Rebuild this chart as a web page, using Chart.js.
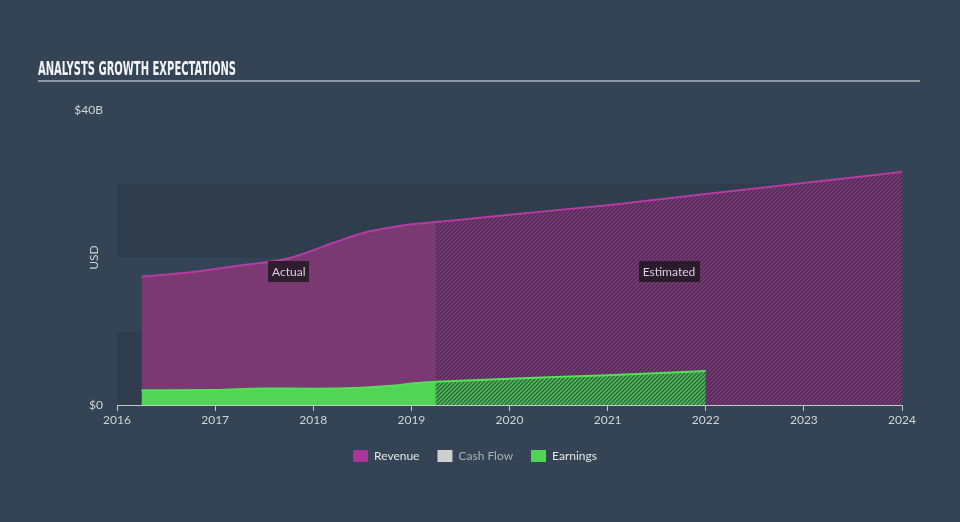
<!DOCTYPE html>
<html>
<head>
<meta charset="utf-8">
<script src="https://cdn.jsdelivr.net/npm/chart.js@4.4.0/dist/chart.umd.min.js"></script>
<style>
  html, body { margin: 0; padding: 0; background: #344454; }
  #wrap { width: 960px; height: 522px; position: relative; }
</style>
</head>
<body>
<div id="wrap"><canvas id="growthChart" width="960" height="522"></canvas></div>
<script>
// Chart data (values in $ billions)
var titleText = "ANALYSTS GROWTH EXPECTATIONS";
var yearTicks = [2016, 2017, 2018, 2019, 2020, 2021, 2022, 2023, 2024];
var yTickValues = [0, 40];
var yTickLabels = ["$0", "$40B"];
var bandRanges = [[0, 10], [20, 30]];

var revenueActualYears = [2016.25, 2016.75, 2017.25, 2017.75, 2018.25, 2018.5, 2018.75, 2019, 2019.25];
var revenueActual = [17.4, 18.0, 18.9, 19.9, 22.2, 23.3, 24.0, 24.5, 24.8];
var revenueEstYears = [2019.25, 2020, 2021, 2022, 2023, 2024];
var revenueEst = [24.8, 25.8, 27.1, 28.6, 30.1, 31.6];

var earningsActualYears = [2016.25, 2017, 2017.5, 2018, 2018.5, 2018.8, 2019, 2019.25];
var earningsActual = [2.0, 2.05, 2.25, 2.2, 2.35, 2.6, 2.9, 3.15];
var earningsEstYears = [2019.25, 2020, 2021, 2022];
var earningsEst = [3.15, 3.55, 4.05, 4.6];

var periodLabels = [
    { text: "Actual", x: 2017.75, y: 18.1 },
    { text: "Estimated", x: 2021.625, y: 18.1 }
];

// build {x, y} points from the year / value arrays
function toPoints(years, values) {
    return years.map(function (yr, i) { return { x: yr, y: values[i] }; });
}

// diagonal hatch used for the estimated part
function makeHatch(base, stripe) {
    var c = document.createElement("canvas");
    c.width = 4; c.height = 4;
    var g = c.getContext("2d");
    g.fillStyle = base;
    g.fillRect(0, 0, 4, 4);
    g.strokeStyle = stripe;
    g.lineWidth = 1.4;
    g.beginPath();
    g.moveTo(-1, 5); g.lineTo(5, -1);
    g.moveTo(-1, 1); g.lineTo(1, -1);
    g.moveTo(3, 5); g.lineTo(5, 3);
    g.stroke();
    return g.createPattern(c, "repeat");
}

var revenueLine = "#b63ba3";
var revenueFill = "#7b3974";
var earningsLine = "#54e057";
var earningsFill = "#50d555";
var revenueHatch = makeHatch("#4f2c55", "#7e3b7a");
var earningsHatch = makeHatch("#2f6240", "#4fc553");

var fontFamily = "Lato, 'Open Sans', sans-serif";

// backdrop bands, title and the Actual / Estimated boxes
var decorations = {
    id: "decorations",
    beforeDraw: function (chart) {
        var ctx = chart.ctx, area = chart.chartArea, y = chart.scales.y;
        ctx.save();
        ctx.fillStyle = "#344454";
        ctx.fillRect(0, 0, chart.width, chart.height);
        ctx.fillStyle = "#2f3d4c";
        bandRanges.forEach(function (r) {
            var top = y.getPixelForValue(r[1]);
            var bottom = y.getPixelForValue(r[0]);
            ctx.fillRect(area.left, top, area.right - area.left, bottom - top);
        });
        // title, squeezed to the width of the condensed original
        ctx.font = "bold 20px 'Liberation Sans Narrow', 'DejaVu Sans Condensed', 'Roboto', sans-serif";
        ctx.fillStyle = "#f2f4f6";
        ctx.textBaseline = "alphabetic";
        var w = ctx.measureText(titleText).width;
        ctx.translate(38, 75);
        ctx.scale(198 / w, 1);
        ctx.fillText(titleText, 0, 0);
        ctx.setTransform(1, 0, 0, 1, 0, 0);
        ctx.fillStyle = "#8e99a5";
        ctx.fillRect(38, 80, 882, 2);
        ctx.restore();
    },
    afterDatasetsDraw: function (chart) {
        var ctx = chart.ctx, xs = chart.scales.x, ys = chart.scales.y;
        ctx.save();
        ctx.font = "12px " + fontFamily;
        ctx.textAlign = "center";
        ctx.textBaseline = "middle";
        periodLabels.forEach(function (p) {
            var cx = xs.getPixelForValue(p.x);
            var cy = ys.getPixelForValue(p.y);
            var w = ctx.measureText(p.text).width + 8;
            ctx.fillStyle = "rgba(36, 24, 38, 0.88)";
            ctx.fillRect(Math.round(cx - w / 2), Math.round(cy - 10.5), Math.round(w), 21);
            ctx.fillStyle = "#d9d2dc";
            ctx.fillText(p.text, cx, cy + 0.5);
        });
        ctx.restore();
    }
};

var ctx = document.getElementById("growthChart").getContext("2d");
var chart = new Chart(ctx, {
    type: "line",
    data: {
        datasets: [
            {
                label: "Earnings",
                data: toPoints(earningsActualYears, earningsActual),
                borderColor: earningsLine,
                backgroundColor: earningsFill,
                borderWidth: 2,
                fill: "origin",
                order: 1
            },
            {
                label: "Earnings estimate",
                data: toPoints(earningsEstYears, earningsEst),
                borderColor: earningsLine,
                backgroundColor: earningsHatch,
                borderWidth: 2,
                fill: "origin",
                order: 1
            },
            {
                label: "Cash Flow",
                data: [],
                borderColor: "#cccccc",
                backgroundColor: "#cccccc",
                order: 2
            },
            {
                label: "Revenue",
                data: toPoints(revenueActualYears, revenueActual),
                borderColor: revenueLine,
                backgroundColor: revenueFill,
                borderWidth: 2,
                fill: "origin",
                order: 3
            },
            {
                label: "Revenue estimate",
                data: toPoints(revenueEstYears, revenueEst),
                borderColor: revenueLine,
                backgroundColor: revenueHatch,
                borderWidth: 2,
                fill: "origin",
                order: 3
            }
        ]
    },
    options: {
        responsive: false,
        animation: false,
        events: [],
        layout: {
            padding: { left: 48, right: 58, top: 110, bottom: 50 }
        },
        elements: {
            point: { radius: 0 },
            line: { cubicInterpolationMode: "monotone" }
        },
        plugins: {
            title: { display: false },
            tooltip: { enabled: false },
            legend: {
                position: "bottom",
                onClick: null,
                labels: {
                    boxWidth: 15,
                    boxHeight: 12,
                    padding: 18,
                    font: { size: 12, family: fontFamily },
                    generateLabels: function () {
                        return [
                            { text: "Revenue", fillStyle: "#a9379a", strokeStyle: "#a9379a", lineWidth: 0, fontColor: "#e3e7eb", hidden: false },
                            { text: "Cash Flow", fillStyle: "#cfcfcf", strokeStyle: "#cfcfcf", lineWidth: 0, fontColor: "#a9b1ba", hidden: false },
                            { text: "Earnings", fillStyle: "#50d555", strokeStyle: "#50d555", lineWidth: 0, fontColor: "#e3e7eb", hidden: false }
                        ];
                    }
                }
            }
        },
        scales: {
            x: {
                type: "linear",
                min: yearTicks[0],
                max: yearTicks[yearTicks.length - 1],
                afterBuildTicks: function (scale) {
                    scale.ticks = yearTicks.map(function (v) { return { value: v }; });
                },
                afterFit: function (scale) { scale.height = 27; },
                grid: {
                    display: true,
                    drawOnChartArea: false,
                    drawTicks: true,
                    tickLength: 6,
                    color: "#c3c9cf"
                },
                border: { display: true, color: "#c3c9cf", width: 1 },
                ticks: {
                    padding: 2,
                    color: "#cfd4d9",
                    font: { size: 12, family: fontFamily },
                    callback: function (v) { return String(v); }
                }
            },
            y: {
                min: 0,
                max: 40,
                afterBuildTicks: function (scale) {
                    scale.ticks = yTickValues.map(function (v) { return { value: v }; });
                },
                afterFit: function (scale) { scale.width = 69; },
                grid: { display: false, drawTicks: false },
                border: { display: false },
                title: {
                    display: true,
                    text: "USD",
                    color: "#cfd4d9",
                    font: { size: 12, family: fontFamily },
                    padding: { top: 39, bottom: 0 }
                },
                ticks: {
                    padding: 14,
                    color: "#cfd4d9",
                    font: { size: 12, family: fontFamily },
                    callback: function (v) { return yTickLabels[yTickValues.indexOf(v)]; }
                }
            }
        }
    },
    plugins: [decorations]
});
</script>
</body>
</html>
